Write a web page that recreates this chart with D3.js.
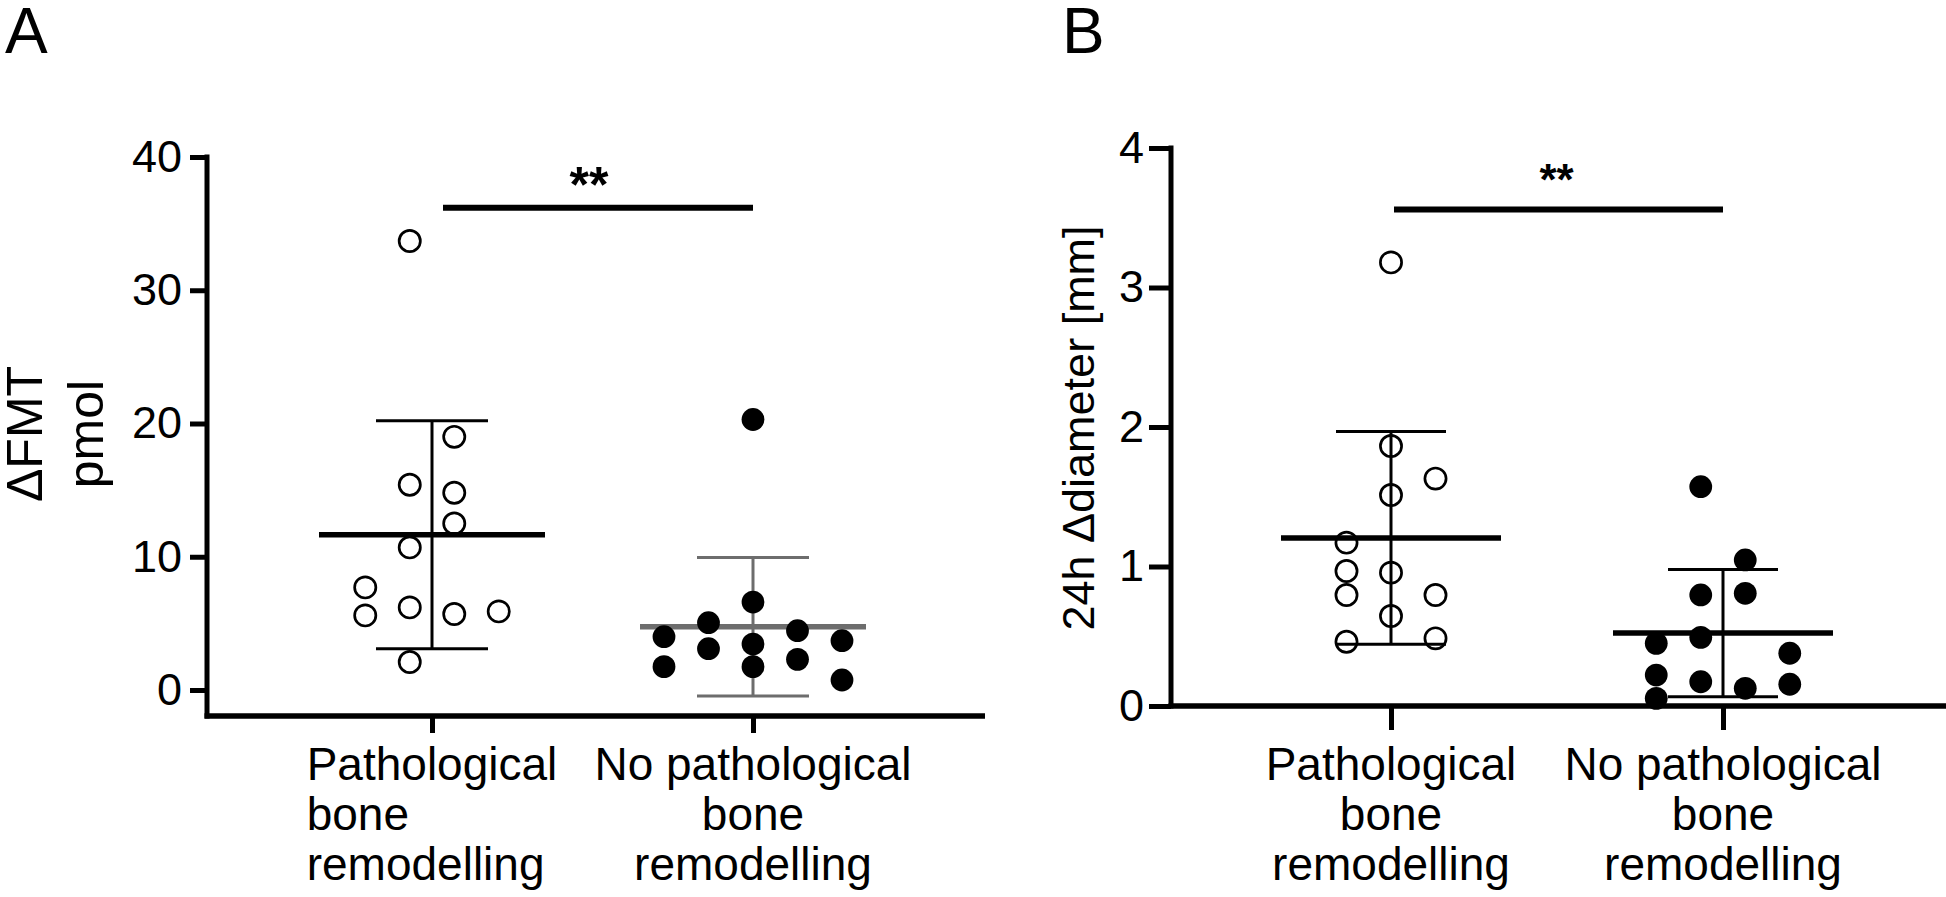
<!DOCTYPE html>
<html><head><meta charset="utf-8">
<script src="https://cdn.jsdelivr.net/npm/d3@7"></script>
<style>
body{margin:0;background:#fff}
svg{display:block;background:#fff}
text{font-family:"Liberation Sans",Arial,sans-serif;fill:#000}
</style>
</head><body>
<svg id="chart" width="1946" height="897"></svg>
<script>
// ---------- data ----------
const categories = ["Pathological bone remodelling", "No pathological bone remodelling"];
const categoryLines = [["Pathological", "bone", "remodelling"], ["No pathological", "bone", "remodelling"]];

// Panel A: ΔFMT (pmol)
const fmtPathological     = [33.7, 19.0, 15.4, 14.8, 12.5, 10.7, 7.7, 5.6, 6.2, 5.7, 5.9, 2.1];
const fmtPathologicalSlot = [-0.5, 0.5, -0.5, 0.5, 0.5, -0.5, -1.5, -1.5, -0.5, 0.5, 1.5, -0.5];
const fmtNoPath           = [20.3, 6.6, 5.05, 4.0, 4.45, 3.7, 3.1, 3.45, 2.3, 1.75, 1.75, 0.75];
const fmtNoPathSlot       = [0, 0, -1, -2, 1, 2, -1, 0, 1, -2, 0, 2];
const fmtMean = [11.65, 4.75];
const fmtSD   = [8.55, 5.2];
const fmtTicks = [0, 10, 20, 30, 40];
const fmtSig = 36.2;

// Panel B: 24h Δdiameter (mm)
const diamPathological     = [3.18, 1.864, 1.63, 1.513, 1.171, 0.968, 0.956, 0.796, 0.796, 0.645, 0.461, 0.485];
const diamPathologicalSlot = [0, 0, 1, 0, -1, -1, 0, -1, 1, 0, -1, 1];
const diamNoPath           = [1.572, 1.047, 0.796, 0.808, 0.492, 0.449, 0.378, 0.222, 0.174, 0.127, 0.156, 0.055];
const diamNoPathSlot       = [-0.5, 0.5, -0.5, 0.5, -0.5, -1.5, 1.5, -1.5, -0.5, 0.5, 1.5, -1.5];
const diamMean = [1.205, 0.523];
const diamSD   = [0.762, 0.456];
const diamTicks = [0, 1, 2, 3, 4];
const diamSig = 3.56;

const sigLabel = "**";

// ---------- layout ----------
const svg = d3.select("#chart");
const FONT = '"Liberation Sans", Arial, sans-serif';

const panels = [
  {
    letter: "A", letterX: 5,
    titleLines: ["\u0394FMT", "pmol"], titleX: [42, 103], titleY: 434, titleSize: 50,
    y: d3.scaleLinear().domain([0, 40]).range([690, 157]),
    x: d3.scalePoint().domain(categories).range([432, 753]),
    ticks: fmtTicks, axisX: 207, axisY: 716, axisRight: 985,
    yTick: 17, yPad: 8, xTick: 17,
    groups: [
      {vals: fmtPathological, slots: fmtPathologicalSlot, filled: false, col: "#000"},
      {vals: fmtNoPath, slots: fmtNoPathSlot, filled: true, col: "#6d6d6d"}
    ],
    mean: fmtMean, sd: fmtSD, meanHalf: 113, capHalf: 56,
    sig: fmtSig, sigInset: 11, sigSize: 50, sigDx: -9, sigBaseGap: 6,
    labelModes: ["block", "center"]
  },
  {
    letter: "B", letterX: 1062,
    titleLines: ["24h \u0394diameter [mm]"], titleX: [1094], titleY: 428, titleSize: 45,
    y: d3.scaleLinear().domain([0, 4]).range([706, 148]),
    x: d3.scalePoint().domain(categories).range([1391, 1723]),
    ticks: diamTicks, axisX: 1171, axisY: 706, axisRight: 1946,
    yTick: 22, yPad: 5, xTick: 24,
    groups: [
      {vals: diamPathological, slots: diamPathologicalSlot, filled: false, col: "#000"},
      {vals: diamNoPath, slots: diamNoPathSlot, filled: true, col: "#000"}
    ],
    mean: diamMean, sd: diamSD, meanHalf: 110, capHalf: 55,
    sig: diamSig, sigInset: 3, sigSize: 44, sigDx: -2, sigBaseGap: 14,
    labelModes: ["center", "center"]
  }
];

const slotStep = 44.5;
const labelBaselines = [780, 830, 880];

panels.forEach(p => {
  const g = svg.append("g");

  // panel letter
  g.append("text").attr("x", p.letterX).attr("y", 53)
    .style("font-size", "64px").text(p.letter);

  // y title
  p.titleLines.forEach((t, i) => {
    g.append("text")
      .attr("transform", `translate(${p.titleX[i]},${p.titleY}) rotate(-90)`)
      .attr("text-anchor", "middle")
      .style("font-size", p.titleSize + "px")
      .text(t);
  });

  // y axis ticks + labels
  const yAxis = d3.axisLeft(p.y).tickValues(p.ticks).tickSize(p.yTick).tickPadding(p.yPad).tickFormat(d3.format("d"));
  const ya = g.append("g").attr("transform", `translate(${p.axisX},0)`).call(yAxis);
  ya.select(".domain").remove();
  ya.selectAll(".tick line").attr("stroke", "#000").attr("stroke-width", 5);
  ya.selectAll(".tick text").style("font-size", "45px").style("font-family", FONT).attr("fill", "#000");

  // y axis line
  g.append("line")
    .attr("x1", p.axisX).attr("x2", p.axisX)
    .attr("y1", p.y(p.ticks[p.ticks.length - 1]) - 2.5).attr("y2", p.axisY + 2.5)
    .attr("stroke", "#000").attr("stroke-width", 5);

  // x axis
  const xAxis = d3.axisBottom(p.x).tickSize(p.xTick).tickFormat("");
  const xa = g.append("g").attr("transform", `translate(0,${p.axisY})`).call(xAxis);
  xa.select(".domain").remove();
  xa.selectAll(".tick line").attr("stroke", "#000").attr("stroke-width", 5);
  g.append("line")
    .attr("x1", p.axisX - 2.5).attr("x2", p.axisRight)
    .attr("y1", p.axisY).attr("y2", p.axisY)
    .attr("stroke", "#000").attr("stroke-width", 5.5);

  // category labels
  categories.forEach((c, ci) => {
    const cx = p.x(c);
    const t = g.append("text").style("font-size", "46px");
    const spans = categoryLines[ci].map((line, li) =>
      t.append("tspan").attr("y", labelBaselines[li]).text(line));
    if (p.labelModes[ci] === "block") {
      const w = d3.max(spans, s => s.node().getComputedTextLength());
      spans.forEach(s => s.attr("x", cx - w / 2));
      t.attr("text-anchor", "start");
    } else {
      spans.forEach(s => s.attr("x", cx));
      t.attr("text-anchor", "middle");
    }
  });

  // error bars (mean ± SD)
  p.groups.forEach((grp, gi) => {
    const cx = p.x(categories[gi]);
    const m = p.mean[gi], s = p.sd[gi];
    const eb = g.append("g").attr("stroke", grp.col);
    eb.append("line").attr("x1", cx).attr("x2", cx)
      .attr("y1", p.y(m + s)).attr("y2", p.y(m - s)).attr("stroke-width", 3);
    [m + s, m - s].forEach(v => eb.append("line")
      .attr("x1", cx - p.capHalf).attr("x2", cx + p.capHalf)
      .attr("y1", p.y(v)).attr("y2", p.y(v)).attr("stroke-width", 3));
    eb.append("line").attr("x1", cx - p.meanHalf).attr("x2", cx + p.meanHalf)
      .attr("y1", p.y(m)).attr("y2", p.y(m)).attr("stroke-width", 5.5);
  });

  // points
  p.groups.forEach((grp, gi) => {
    const cx = p.x(categories[gi]);
    g.append("g").selectAll("circle").data(grp.vals).join("circle")
      .attr("cx", (d, i) => cx + grp.slots[i] * slotStep)
      .attr("cy", d => p.y(d))
      .attr("r", grp.filled ? 11.4 : 10.6)
      .attr("fill", grp.filled ? "#000" : "none")
      .attr("stroke", "#000")
      .attr("stroke-width", grp.filled ? 0 : 2.7);
  });

  // significance bar
  const x1 = p.x(categories[0]) + p.sigInset, x2 = p.x(categories[1]);
  const sy = p.y(p.sig);
  g.append("line").attr("x1", x1).attr("x2", x2).attr("y1", sy).attr("y2", sy)
    .attr("stroke", "#000").attr("stroke-width", 6);
  g.append("text").attr("x", (x1 + x2) / 2 + p.sigDx).attr("y", sy - p.sigBaseGap)
    .attr("text-anchor", "middle").style("font-size", p.sigSize + "px").style("font-weight", "bold")
    .text(sigLabel);
});
</script>
</body></html>
